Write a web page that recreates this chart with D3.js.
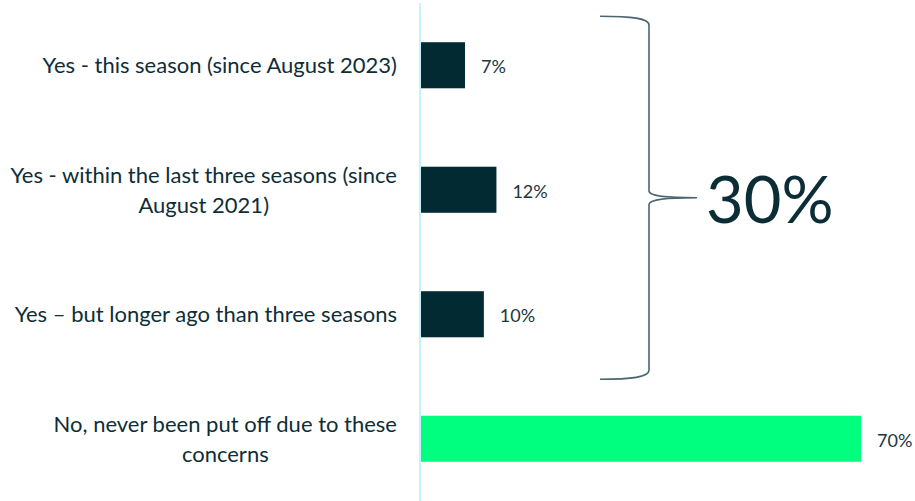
<!DOCTYPE html>
<html>
<head>
<meta charset="utf-8">
<script src="https://cdn.jsdelivr.net/npm/d3@7"></script>
<style>
  html, body { margin: 0; padding: 0; background: #ffffff; }
  svg { display: block; }
</style>
</head>
<body>
<div id="chart"></div>
<script>
// Categories (line breaks marked with \n), their shares and bar colours
const categories = [
  "Yes - this season (since August 2023)",
  "Yes - within the last three seasons (since\nAugust 2021)",
  "Yes \u2013 but longer ago than three seasons",
  "No, never been put off due to these\nconcerns"
];
const values = [7, 12, 10, 70];
const barColors = ["#022a33", "#022a33", "#022a33", "#00ff7f"];
const valueLabels = values.map(v => v + "%");
const groupTotal = "30%";

const width = 915, height = 501;
const textColor = "#0d2e37";

const svg = d3.select("#chart").append("svg")
  .attr("width", width)
  .attr("height", height);

const x = d3.scaleLinear().domain([0, 70]).range([421, 861]);
const y = d3.scaleBand()
  .domain(d3.range(categories.length))
  .range([3, 501])
  .paddingInner(0.63)
  .paddingOuter(0.315);

// Bars
svg.append("g").selectAll("rect")
  .data(values)
  .join("rect")
  .attr("x", x(0))
  .attr("y", (d, i) => y(i))
  .attr("width", d => x(d) - x(0))
  .attr("height", y.bandwidth())
  .attr("fill", (d, i) => barColors[i]);

// Vertical axis line
svg.append("line")
  .attr("x1", 420).attr("x2", 420)
  .attr("y1", 3).attr("y2", height)
  .attr("stroke", "#c4f3fa")
  .attr("stroke-width", 2);

// Value labels
svg.append("g").selectAll("text")
  .data(values)
  .join("text")
  .attr("x", d => x(d) + 16)
  .attr("y", (d, i) => y(i) + y.bandwidth() / 2 + 8)
  .attr("font-family", "Lato, sans-serif")
  .attr("font-size", 18)
  .attr("fill", "#1b3640")
  .text((d, i) => valueLabels[i]);

// Category labels: block right-aligned, lines centred on each other
const labelRight = 397;
const lineGap = 30;
const catG = svg.append("g")
  .attr("font-family", "Lato, sans-serif")
  .attr("font-size", 22)
  .attr("fill", textColor);

categories.forEach((c, i) => {
  const lines = c.split("\n");
  const cy = y(i) + y.bandwidth() / 2;
  const t = catG.append("text").attr("text-anchor", "middle");
  const spans = lines.map((ln, k) => t.append("tspan")
    .attr("y", cy + 8 + (k - (lines.length - 1) / 2) * lineGap)
    .text(ln));
  const w = d3.max(spans, s => s.node().getComputedTextLength());
  spans.forEach(s => s.attr("x", labelRight - w / 2));
});

// Brace grouping the three "Yes" answers
const braceTop = y(0) - 26, braceBottom = y(2) + y.bandwidth() + 42;
const braceMid = (braceTop + braceBottom) / 2;
const bx0 = 600, bx1 = 649, bx2 = 697;
const brace = d3.path();
brace.moveTo(bx0, braceTop);
brace.bezierCurveTo(bx0 + 32, braceTop, bx1, braceTop + 2, bx1, braceTop + 9);
brace.lineTo(bx1, braceMid - 7);
brace.bezierCurveTo(bx1, braceMid - 1, bx1 + 20, braceMid, bx2, braceMid);
brace.bezierCurveTo(bx1 + 20, braceMid, bx1, braceMid + 1, bx1, braceMid + 7);
brace.lineTo(bx1, braceBottom - 9);
brace.bezierCurveTo(bx1, braceBottom - 2, bx0 + 32, braceBottom, bx0, braceBottom);
svg.append("path")
  .attr("d", brace.toString())
  .attr("fill", "none")
  .attr("stroke", "#4b6670")
  .attr("stroke-width", 1.6);

svg.append("text")
  .attr("x", 706)
  .attr("y", braceMid + 25)
  .attr("font-family", "Lato, sans-serif")
  .attr("font-size", 65)
  .attr("fill", "#0b2e36")
  .text(groupTotal);
</script>
</body>
</html>
